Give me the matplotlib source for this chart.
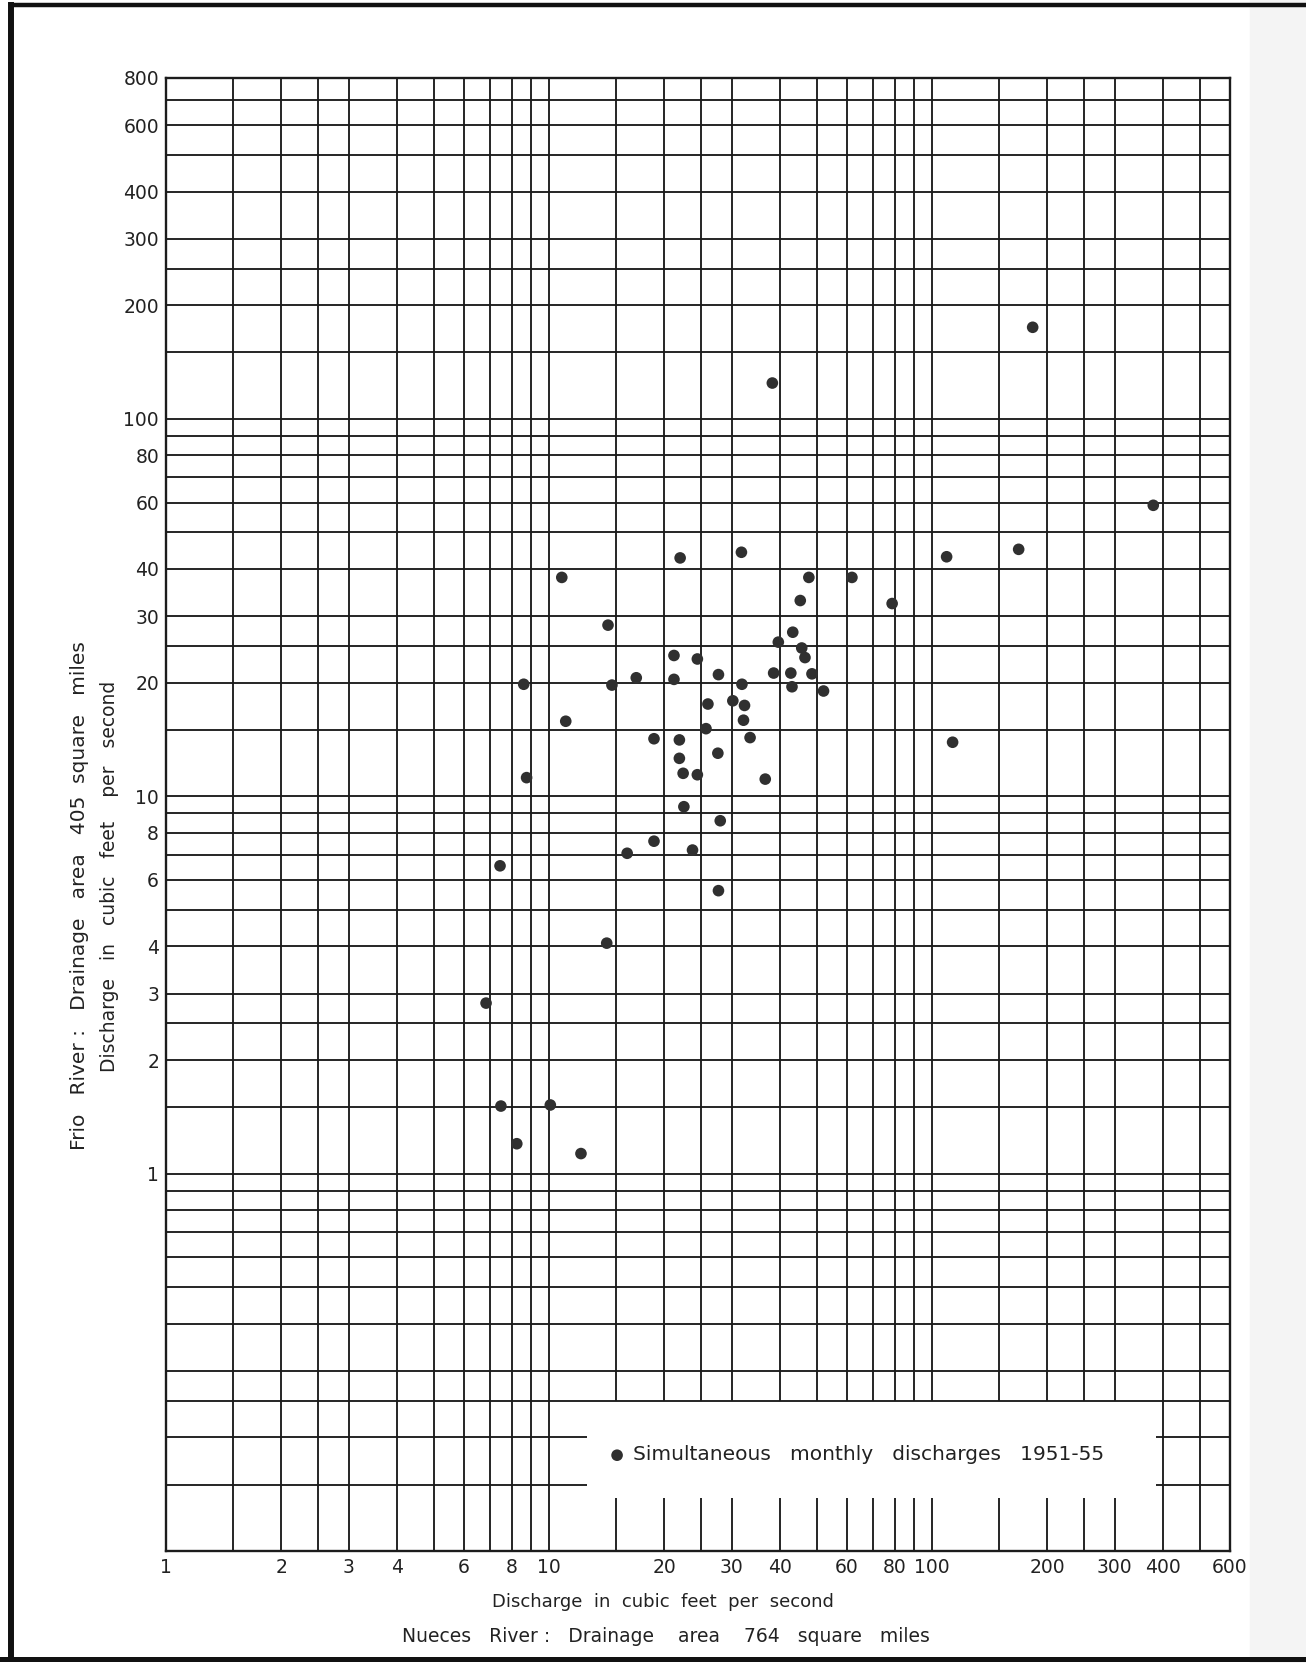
import matplotlib
matplotlib.use("Agg")
import matplotlib.pyplot as plt
from matplotlib.lines import Line2D
from matplotlib.ticker import NullLocator, FixedLocator, FixedFormatter

# ---------------- data ----------------
# Nueces River discharge (x, cfs) and Frio River discharge (y, cfs)
nueces_cfs = [183.2, 38.3, 378.3, 22.0, 31.8, 109.2, 168.4, 10.8, 47.7, 61.8,
              45.3, 78.7, 14.26, 43.3, 39.7, 45.7, 46.6, 21.2, 24.4, 16.9,
              27.7, 21.2, 38.6, 42.8, 48.6, 8.59, 14.6, 31.9, 43.1, 52.1,
              26.0, 30.2, 32.4, 32.2, 11.06, 25.7, 33.5, 18.8, 21.9, 113.2,
              21.9, 27.6, 22.4, 24.4, 8.74, 36.7, 22.5, 28.0, 18.8, 16.0,
              23.7, 7.45, 27.7, 14.15, 6.85, 7.49, 10.08, 8.24, 12.12]
frio_cfs = [174.8, 124.4, 59.0, 42.8, 44.3, 43.1, 45.1, 38.0, 38.0, 38.0,
            33.0, 32.4, 28.4, 27.2, 25.6, 24.7, 23.3, 23.6, 23.1, 20.6,
            21.0, 20.4, 21.2, 21.2, 21.1, 19.8, 19.7, 19.8, 19.5, 19.0,
            17.55, 17.9, 17.4, 15.9, 15.8, 15.1, 14.3, 14.2, 14.1, 13.9,
            12.6, 13.0, 11.5, 11.4, 11.2, 11.1, 9.38, 8.61, 7.60, 7.06,
            7.20, 6.54, 5.62, 4.08, 2.83, 1.51, 1.52, 1.20, 1.13]

x_ticks = [1, 2, 3, 4, 6, 8, 10, 20, 30, 40, 60, 80, 100, 200, 300, 400, 600]
y_ticks = [1, 2, 3, 4, 6, 8, 10, 20, 30, 40, 60, 80, 100, 200, 300, 400, 600, 800]
grid_steps = [1, 1.5, 2, 2.5, 3, 4, 5, 6, 7, 8, 9]

legend_label = "Simultaneous   monthly   discharges   1951-55"
x_label_1 = "Discharge  in  cubic  feet  per  second"
x_label_2 = "Nueces   River :   Drainage    area    764   square   miles"
y_label_1 = "Frio   River :   Drainage   area   405  square   miles"
y_label_2 = "Discharge   in   cubic   feet    per   second"

# ---------------- layout ----------------
W, H = 1306, 1663
x_lim = (1, 600)
y_lim = (0.1, 800)
gap_x = (12.6, 385)      # blank area of the paper where the key is lettered
gap_y = (0.138, 0.25)

x_grid = [s * 10 ** k for k in (0, 1, 2) for s in grid_steps
          if x_lim[0] < s * 10 ** k < x_lim[1]]
y_grid = [s * 10 ** k for k in (-1, 0, 1, 2) for s in grid_steps
          if y_lim[0] < s * 10 ** k < y_lim[1]]

INK = "#1c1c1c"
TXT = "#222222"
GLW = 1.35
FONT = "DejaVu Sans"

fig = plt.figure(figsize=(W / 100, H / 100), dpi=100)
fig.patch.set_facecolor("white")
ax = fig.add_axes([166 / W, 1 - 1551 / H, 1064 / W, 1473 / H])
ax.set_xscale("log")
ax.set_yscale("log")
ax.set_xlim(*x_lim)
ax.set_ylim(*y_lim)
ax.set_facecolor("white")

for xv in x_grid:
    if gap_x[0] < xv < gap_x[1]:
        ax.vlines(xv, gap_y[1], y_lim[1], color=INK, lw=GLW, zorder=1)
        ax.vlines(xv, y_lim[0], gap_y[0], color=INK, lw=GLW, zorder=1)
    else:
        ax.vlines(xv, y_lim[0], y_lim[1], color=INK, lw=GLW, zorder=1)
for yv in y_grid:
    if gap_y[0] < yv < gap_y[1]:
        ax.hlines(yv, x_lim[0], gap_x[0], color=INK, lw=GLW, zorder=1)
        ax.hlines(yv, gap_x[1], x_lim[1], color=INK, lw=GLW, zorder=1)
    else:
        ax.hlines(yv, x_lim[0], x_lim[1], color=INK, lw=GLW, zorder=1)

for sp in ax.spines.values():
    sp.set_color(INK)
    sp.set_linewidth(1.7)

sc = ax.scatter(nueces_cfs, frio_cfs, s=70, color="#303030", edgecolors="none",
                zorder=3, label=legend_label)

ax.xaxis.set_major_locator(FixedLocator(x_ticks))
ax.xaxis.set_major_formatter(FixedFormatter([str(v) for v in x_ticks]))
ax.xaxis.set_minor_locator(NullLocator())
ax.yaxis.set_major_locator(FixedLocator(y_ticks))
ax.yaxis.set_major_formatter(FixedFormatter([str(v) for v in y_ticks]))
ax.yaxis.set_minor_locator(NullLocator())
ax.tick_params(axis="both", length=0, labelsize=13.5, colors=TXT)
ax.tick_params(axis="x", pad=5)
ax.tick_params(axis="y", pad=5)
for lab in ax.get_xticklabels() + ax.get_yticklabels():
    lab.set_family(FONT)

leg = ax.legend(handles=[sc], labels=[legend_label], loc="center left",
                bbox_to_anchor=((607 - 166) / 1064, (1551 - 1455) / 1473),
                frameon=False, handlelength=1.0, handletextpad=0.3,
                borderpad=0, borderaxespad=0,
                prop={"family": FONT, "size": 14.5})
for t in leg.get_texts():
    t.set_color(TXT)

fig.text(663 / W, 1 - 1602 / H, x_label_1, ha="center", va="center",
         fontsize=13, family=FONT, color=TXT)
fig.text(666 / W, 1 - 1637 / H, x_label_2, ha="center", va="center",
         fontsize=13.5, family=FONT, color=TXT)
fig.text(80 / W, 1 - 896 / H, y_label_1, ha="center", va="center",
         rotation=90, fontsize=14.5, family=FONT, color=TXT)
fig.text(110 / W, 1 - 876 / H, y_label_2, ha="center", va="center",
         rotation=90, fontsize=13.5, family=FONT, color=TXT)

# faint strip of the scanned page on the right
fig.add_artist(plt.Rectangle((1250 / W, 0), 56 / W, 1, transform=fig.transFigure,
                             color="#f4f4f4", zorder=-5))
# heavy border of the plate
fig.add_artist(Line2D([11 / W, 11 / W], [1 - 1659 / H, 1 - 5 / H],
                      transform=fig.transFigure, color="#111111", lw=4.3))
fig.add_artist(Line2D([11 / W, 1.0], [1 - 5 / H, 1 - 5 / H],
                      transform=fig.transFigure, color="#111111", lw=3.2))
fig.add_artist(Line2D([0.0, 1.0], [1 - 1659 / H, 1 - 1659 / H],
                      transform=fig.transFigure, color="#111111", lw=3.6))

fig.savefig("out.png", dpi=100, facecolor="white")
